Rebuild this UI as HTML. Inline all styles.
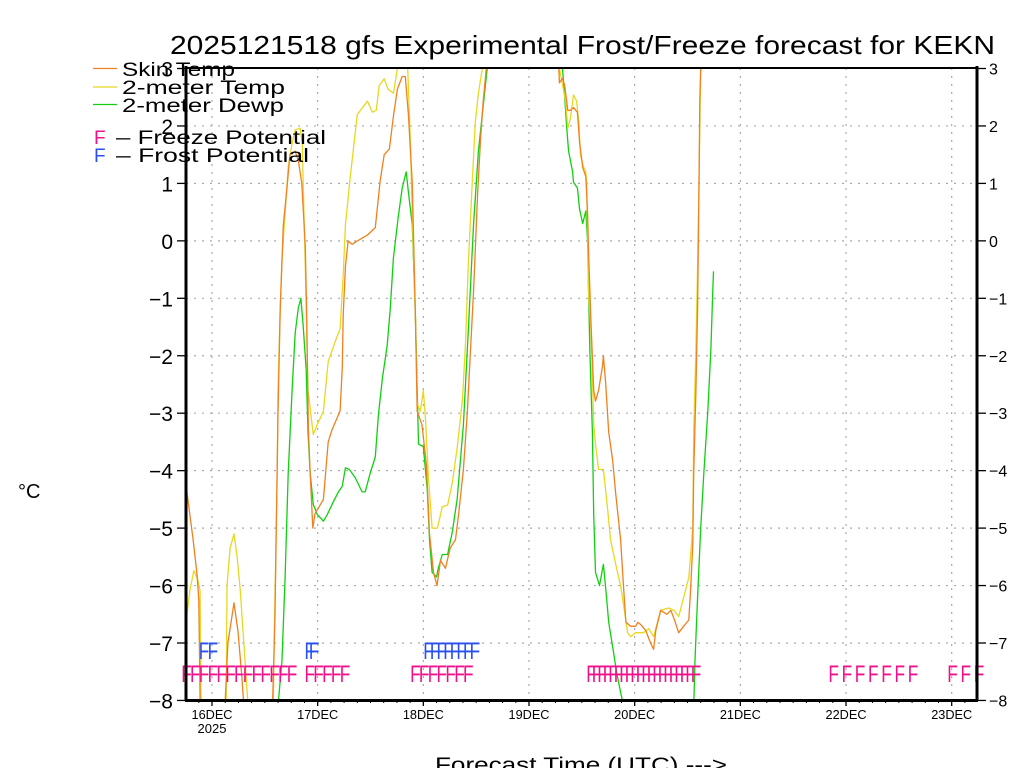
<!DOCTYPE html>
<html><head><meta charset="utf-8"><style>
html,body{margin:0;padding:0;background:#fff;width:1024px;height:768px;overflow:hidden}
svg{display:block}
text{font-family:"Liberation Sans",sans-serif;fill:#000}
</style></head><body>
<svg id="chart" width="1024" height="768" viewBox="0 0 1024 768" xmlns="http://www.w3.org/2000/svg">
<defs><clipPath id="plotclip"><rect x="186" y="68" width="791" height="632"/></clipPath></defs>
<text x="170" y="54" font-size="26" textLength="825" lengthAdjust="spacingAndGlyphs">2025121518 gfs Experimental Frost/Freeze forecast for KEKN</text>
<text x="18" y="498" font-size="20">°C</text>
<text x="435" y="772" font-size="21" textLength="292" lengthAdjust="spacingAndGlyphs">Forecast Time (UTC) ---&gt;</text>
<g id="grid"></g>
<g id="series" clip-path="url(#plotclip)"></g>
<g id="marks"></g>
<g id="axes"></g>
<g id="legend">
  <line x1="93" y1="68.5" x2="117" y2="68.5" stroke="#f08020" stroke-width="1.2"/>
  <text x="122" y="76" font-size="19" textLength="113" lengthAdjust="spacingAndGlyphs">Skin Temp</text>
  <line x1="93" y1="87" x2="117" y2="87" stroke="#e8d820" stroke-width="1.2"/>
  <text x="122" y="94" font-size="19" textLength="163" lengthAdjust="spacingAndGlyphs">2-meter Temp</text>
  <line x1="93" y1="104.5" x2="117" y2="104.5" stroke="#10d010" stroke-width="1.2"/>
  <text x="122" y="112" font-size="19" textLength="162" lengthAdjust="spacingAndGlyphs">2-meter Dewp</text>
  <text x="94" y="144" font-size="19" style="fill:#f0108c">F</text>
  <text x="116" y="144" font-size="19" textLength="210" lengthAdjust="spacingAndGlyphs">– Freeze Potential</text>
  <text x="94" y="162" font-size="19" style="fill:#2850f0">F</text>
  <text x="116" y="162" font-size="19" textLength="193" lengthAdjust="spacingAndGlyphs">– Frost Potential</text>
</g>
</svg>
<script>
// hours since 16DEC 00Z
const skinHours=[-5.9,-4.3,-3.4,-3.0,-2.7,-2.0,2.3,2.7,3.6,5.0,5.9,6.8,7.7,13.2,13.6,14.3,15.0,15.5,16.2,17.1,17.7,18.9,19.6,20.4,21.2,21.5,21.9,22.3,22.9,23.4,25.3,26.4,27.2,29.1,29.6,29.8,30.3,30.9,31.8,33.0,35.3,37.1,38.2,39.1,40.3,41.2,42.1,43.2,43.9,44.6,45.5,46.2,46.6,47.7,48.7,49.4,50.3,51.1,51.9,53.0,54.1,55.3,56.0,57.1,58.0,58.7,59.4,60.3,61.0,61.6,62.3,63.0,78.5,78.9,79.6,80.1,80.8,81.4,82.1,83.0,83.5,84.2,84.9,85.3,85.5,86.0,86.4,86.7,87.1,87.8,88.7,88.9,89.4,90.1,91.0,91.7,92.8,93.5,94.0,95.1,96.2,96.7,97.4,98.5,99.6,100.3,100.8,101.9,103.3,104.2,104.9,106.0,107.1,108.3,108.7,109.2,109.4,109.9,110.3,110.6,110.8,111.0,111.3];
const skinVals=[-4.25,-5.2,-5.8,-6.25,-8,-9,-9,-8.5,-7.0,-6.3,-6.8,-7.6,-8.6,-9,-8.5,-6.5,-3.0,-1.2,0.27,0.98,1.5,1.56,1.4,1.0,-0.1,-1.3,-3.3,-4.05,-5.0,-4.75,-4.5,-3.5,-3.3,-2.96,-2.2,-1.3,-0.45,0.0,-0.06,0.0,0.1,0.23,1.05,1.5,1.6,2.17,2.64,2.86,2.86,2.2,1.0,-1.3,-2.97,-3.2,-3.9,-5.1,-5.77,-6.0,-5.56,-5.7,-5.35,-5.2,-4.76,-3.98,-2.96,-1.9,-0.9,0.78,1.79,2.43,3.0,3.6,3.6,2.75,2.83,2.7,2.27,2.27,2.32,2.24,1.71,1.28,1.12,0.48,-0.09,-1.3,-2.03,-2.6,-2.79,-2.6,-2.18,-2.0,-2.46,-3.33,-3.83,-4.4,-5.2,-6.07,-6.64,-6.71,-6.71,-6.64,-6.68,-6.78,-7.0,-7.11,-6.78,-6.43,-6.5,-6.43,-6.57,-6.82,-6.71,-6.6,-6.07,-5.27,-4.05,-2.61,-1.17,0.99,2.43,3.0,3.6];
const tempHours=[-5.9,-5.7,-5.0,-4.1,-3.2,-2.7,-2.5,-2.0,3.0,3.2,3.4,4.1,5.0,5.7,6.4,7.5,8.2,8.6,13.4,13.9,14.3,14.8,15.0,15.5,15.9,16.6,17.3,18.2,18.9,20.0,20.5,20.7,21.2,21.8,23.0,23.9,25.3,26.4,28.0,29.1,29.8,30.3,31.4,33.0,35.3,36.4,37.3,38.0,39.1,40.0,41.2,42.1,42.8,43.9,44.4,45.0,45.7,46.2,46.6,47.3,48.0,48.5,49.1,50.0,51.2,52.3,53.5,54.6,55.7,56.9,57.6,58.2,59.1,59.8,60.5,61.4,62.1,78.3,78.9,80.3,80.8,81.4,82.1,82.8,83.3,83.7,84.4,84.9,85.1,85.3,85.5,86.0,86.4,86.7,87.1,87.8,88.9,89.9,90.5,91.7,92.8,93.5,94.4,95.1,96.2,98.0,99.2,100.3,101.9,103.7,104.9,106.0,107.1,108.3,109.2,109.4,109.9,110.3,110.6,111.0,111.2];
const tempVals=[-6.35,-6.5,-6.07,-5.74,-5.9,-6.1,-8,-9,-9,-8.2,-6.0,-5.35,-5.1,-5.5,-6.07,-7.3,-8.1,-9,-9,-8.1,-6.2,-4.05,-2.6,-1.17,-0.3,0.48,1.28,1.7,1.93,1.96,1.7,1.06,-0.45,-2.6,-3.37,-3.2,-2.97,-2.1,-1.75,-1.53,-0.6,0.27,1.12,2.2,2.43,2.24,2.27,2.71,2.82,2.64,2.57,3.0,3.6,3.6,3.1,1.86,-0.1,-1.3,-2.83,-2.97,-2.6,-3.1,-4.05,-5.0,-5.0,-4.63,-4.6,-4.2,-3.6,-2.76,-1.75,-0.45,1.0,2.07,2.57,3.0,3.6,3.6,3.0,2.43,1.96,2.13,2.54,2.43,2.07,1.49,1.28,1.2,0.99,0.05,-0.88,-1.46,-2.33,-3.2,-3.54,-3.98,-3.98,-4.7,-5.2,-5.63,-6.0,-6.35,-6.82,-6.89,-6.82,-6.82,-6.75,-6.89,-6.43,-6.39,-6.43,-6.54,-6.21,-5.86,-4.99,-3.33,-1.88,-0.45,0.99,3.0,3.6];
const dewpHours=[14.3,15.0,15.9,16.6,17.3,18.2,18.9,19.6,20.2,20.7,21.4,21.8,22.3,23.0,23.9,25.3,26.2,27.5,28.7,29.6,30.3,31.2,32.5,34.1,34.8,35.9,37.1,37.8,38.7,39.8,40.5,41.2,42.3,43.2,44.1,44.6,45.5,46.2,46.9,48.0,48.9,49.4,50.0,51.0,51.4,52.3,53.5,54.6,55.7,57.1,58.2,59.4,60.5,61.6,62.5,63.0,79.4,79.6,80.1,80.6,81.0,81.9,82.1,83.0,83.5,84.2,84.9,85.3,85.8,86.4,86.7,87.1,88.0,88.9,89.6,90.1,91.0,91.9,92.8,93.5,93.9,109.0,109.4,109.7,110.3,111.0,111.7,112.6,113.3,113.7,113.9];
const dewpVals=[-9,-8.1,-7.3,-5.86,-4.05,-2.6,-1.6,-1.17,-1.0,-1.46,-2.25,-3.33,-4.05,-4.59,-4.76,-4.88,-4.76,-4.55,-4.37,-4.27,-3.95,-3.98,-4.12,-4.37,-4.37,-4.05,-3.76,-3.03,-2.39,-1.82,-1.17,-0.3,0.41,0.92,1.2,0.85,0.27,-1.3,-3.54,-3.58,-4.34,-5.2,-5.77,-5.85,-5.7,-5.46,-5.46,-5.06,-4.49,-3.2,-1.6,0.27,1.56,2.35,3.0,3.6,3.6,3.0,2.5,1.93,1.56,1.2,1.02,0.92,0.55,0.3,0.52,-0.02,-1.88,-3.33,-4.76,-5.77,-6.0,-5.63,-6.2,-6.64,-7.07,-7.51,-7.86,-8.1,-9,-9,-8.1,-7.3,-6.2,-5.0,-4.05,-2.97,-1.88,-0.96,-0.53];
const freezeHours=[-7,-5,-3,-1,1,3,5,7,9,11,13,15,17,21,23,25,27,29,45,47,49,51,53,55,57,85,86.25,87.5,88.75,90,91.25,92.5,93.75,95,96.25,97.5,98.75,100,101.25,102.5,103.75,105,106.25,107.5,108.75,140,143,146,149,152,155,158,167,170,173];
const frostHours=[-3,-1,21,22,48,49.5,51,52.5,54,55.5,57,58.5];
const yTicks=[3,2,1,0,-1,-2,-3,-4,-5,-6,-7,-8];
const dayLabels=["16DEC","17DEC","18DEC","19DEC","20DEC","21DEC","22DEC","23DEC"];

const NS="http://www.w3.org/2000/svg";
const X0=212, PXH=105.67/24, YTOP=68.5, PXV=57.45;
function xs(h){return X0+h*PXH;}
function ys(v){return YTOP+(3-v)*PXV;}
function mk(tag,attrs,parent){const e=document.createElementNS(NS,tag);for(const k in attrs)e.setAttribute(k,attrs[k]);parent.appendChild(e);return e;}
const grid=document.getElementById('grid'),series=document.getElementById('series'),marks=document.getElementById('marks'),axes=document.getElementById('axes');

yTicks.forEach(v=>{
  if(v<3&&v>-8){const l=mk('line',{x1:186,x2:977,y1:ys(v),y2:ys(v),stroke:'#aaa','stroke-width':1.2,'stroke-dasharray':'2,6'},grid);
  
  }
  const t1=mk('line',{x1:177,x2:186,y1:ys(v),y2:ys(v),stroke:'#000','stroke-width':1.3},axes);
  
  
  const t2=mk('line',{x1:977,x2:986,y1:ys(v),y2:ys(v),stroke:'#000','stroke-width':1.3},axes);
  
  
  const lab=(v<0?'\u2212':'')+Math.abs(v);
  const a=mk('text',{x:173,y:ys(v)+8,'font-size':21,'text-anchor':'end'},axes);a.textContent=lab;
  
  
  const b=mk('text',{x:989,y:ys(v)+6,'font-size':16},axes);b.textContent=lab;
  
  
});
dayLabels.forEach((d,i)=>{
  const x=xs(i*24);
  const g=mk('line',{x1:x,x2:x,y1:68,y2:700,stroke:'#aaa','stroke-width':1.2,'stroke-dasharray':'2,6'},grid);
  
  
  const tk=mk('line',{x1:x,x2:x,y1:700,y2:706,stroke:'#000','stroke-width':1.3},axes);
  
  
  const t=mk('text',{x:x,y:719,'font-size':13,'text-anchor':'middle',textLength:41,lengthAdjust:'spacingAndGlyphs'},axes);t.textContent=d;
  
  
});
const yr=mk('text',{x:xs(0),y:733,'font-size':13,'text-anchor':'middle'},axes);yr.textContent='2025';


for(let h=-3;h<=171;h+=3){if(h%24===0)continue;const m=mk('line',{x1:xs(h),x2:xs(h),y1:700,y2:703,stroke:'#000','stroke-width':1},axes);
  
  }

function drawLine(hours,vals,color,name){
  const pts=hours.map((h,i)=>xs(h).toFixed(1)+','+ys(vals[i]).toFixed(1)).join(' ');
  const p=mk('polyline',{points:pts,fill:'none',stroke:color,'stroke-width':1.3,'stroke-linejoin':'round'},series);
  
  
}
drawLine(dewpHours,dewpVals,'#10d010','dewpoint-line');
drawLine(tempHours,tempVals,'#e8d820','temp-2m-line');
drawLine(skinHours,skinVals,'#f08020','skin-temp-line');

function drawF(h,y,color,name){
  const t=mk('text',{x:0,y:0,'font-size':24,transform:'translate('+xs(h).toFixed(1)+','+y+') scale(0.72,1)',style:'fill:'+color},marks);
  t.textContent='F';
  
  
}
freezeHours.forEach(h=>drawF(h,682,'#f0108c','freeze-marker'));
frostHours.forEach(h=>drawF(h,659,'#2850f0','frost-marker'));

const ax=[[186,66,186,701,3],[185,700.5,978,700.5,3],[186,68,977,68,2],[977,66,977,701,3]];
ax.forEach(a=>{const l=mk('line',{x1:a[0],y1:a[1],x2:a[2],y2:a[3],stroke:'#000','stroke-width':a[4]},axes);
  
  });
</script>
</body></html>
